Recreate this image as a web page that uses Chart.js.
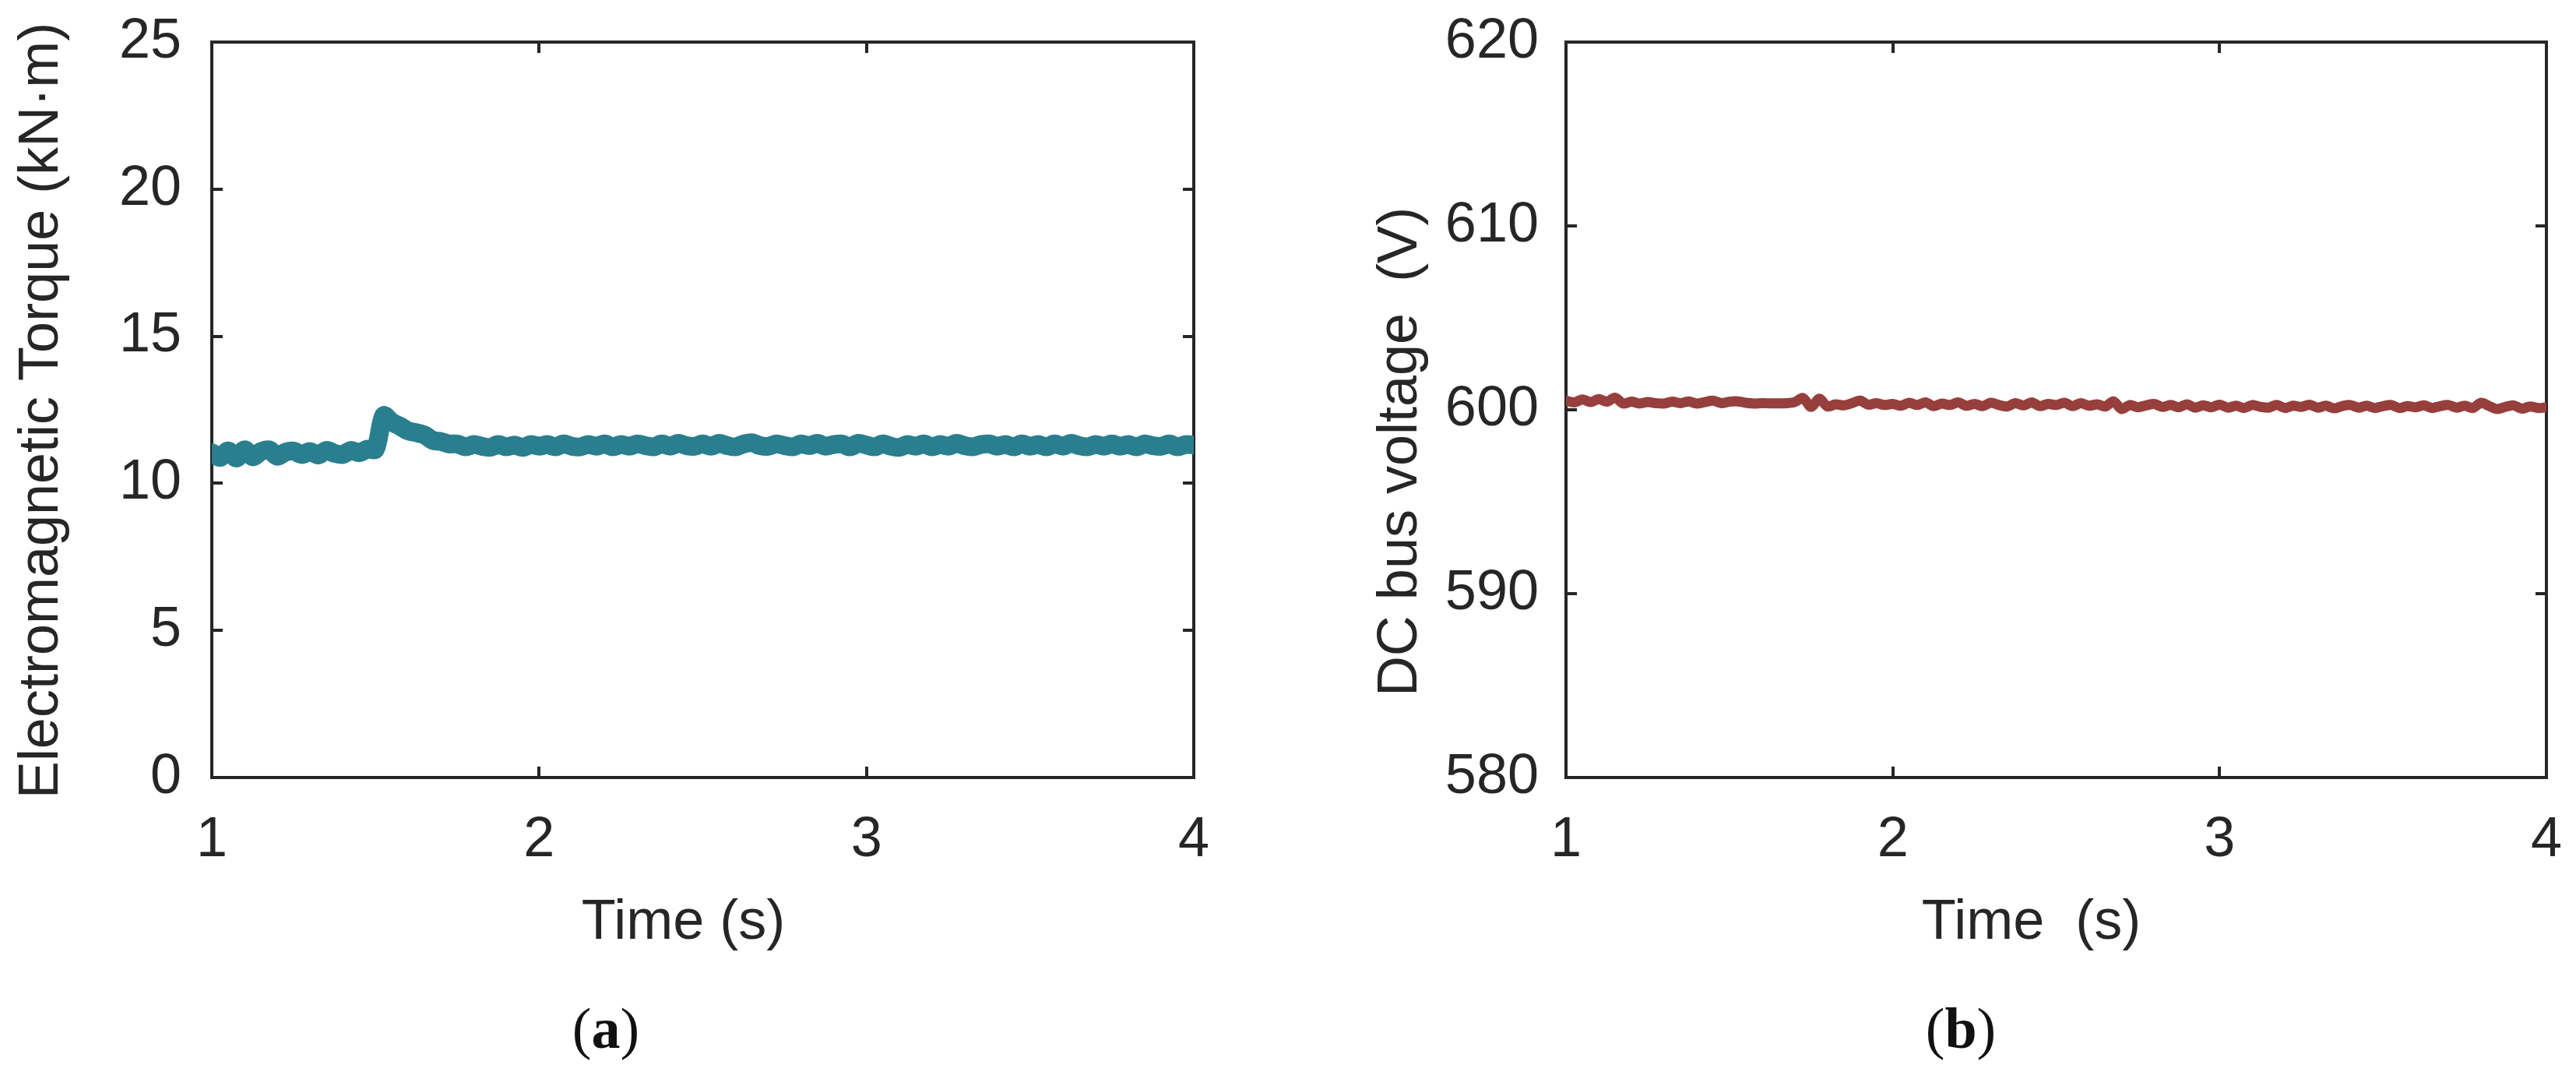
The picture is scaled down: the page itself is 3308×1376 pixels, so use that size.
<!DOCTYPE html>
<html>
<head>
<meta charset="utf-8">
<script src="https://cdn.jsdelivr.net/npm/chart.js@4.4.1/dist/chart.umd.min.js"></script>
<style>
  body { margin: 0; background: #fff; width: 3308px; height: 1376px; position: relative; overflow: hidden; }
  canvas { position: absolute; top: 0; }
  #chartA { left: 0; }
  #chartB { left: 1654px; }
  .cap { position: absolute; top: 1320px; transform: translate(-50%, -50%); font: 74px "Liberation Serif", serif; color: #111; line-height: 1; }
</style>
</head>
<body>
<canvas id="chartA" width="1654" height="1228"></canvas>
<canvas id="chartB" width="1654" height="1228"></canvas>
<div class="cap" style="left:778px">(<b>a</b>)</div>
<div class="cap" style="left:2518px">(<b>b</b>)</div>
<script>
const timeS = [
  1, 1.025, 1.05, 1.075, 1.1, 1.125, 1.15, 1.175, 1.2, 1.225, 1.25, 1.275, 1.3, 1.325, 1.35, 1.375, 1.4, 1.425, 1.45, 1.475,
  1.5, 1.525, 1.55, 1.575, 1.6, 1.625, 1.65, 1.675, 1.7, 1.725, 1.75, 1.775, 1.8, 1.825, 1.85, 1.875, 1.9, 1.925, 1.95, 1.975,
  2, 2.025, 2.05, 2.075, 2.1, 2.125, 2.15, 2.175, 2.2, 2.225, 2.25, 2.275, 2.3, 2.325, 2.35, 2.375, 2.4, 2.425, 2.45, 2.475,
  2.5, 2.525, 2.55, 2.575, 2.6, 2.625, 2.65, 2.675, 2.7, 2.725, 2.75, 2.775, 2.8, 2.825, 2.85, 2.875, 2.9, 2.925, 2.95, 2.975,
  3, 3.025, 3.05, 3.075, 3.1, 3.125, 3.15, 3.175, 3.2, 3.225, 3.25, 3.275, 3.3, 3.325, 3.35, 3.375, 3.4, 3.425, 3.45, 3.475,
  3.5, 3.525, 3.55, 3.575, 3.6, 3.625, 3.65, 3.675, 3.7, 3.725, 3.75, 3.775, 3.8, 3.825, 3.85, 3.875, 3.9, 3.925, 3.95, 3.975,
  4
]

// electromagnetic torque, kN·m
const torque = [
  11.04, 10.88, 11.10, 10.86, 11.14, 10.90, 11.08, 11.14, 10.92, 11.06, 11.10, 10.98, 11.08, 10.96, 11.12, 11.02, 10.98, 11.12, 11.04, 11.16,
  11.16, 12.30, 12.08, 11.94, 11.78, 11.72, 11.64, 11.46, 11.42, 11.34, 11.34, 11.24, 11.32, 11.26, 11.22, 11.32, 11.24, 11.30, 11.22, 11.32,
  11.26, 11.32, 11.24, 11.34, 11.26, 11.24, 11.32, 11.26, 11.34, 11.24, 11.32, 11.26, 11.34, 11.28, 11.24, 11.34, 11.26, 11.36, 11.28, 11.26,
  11.34, 11.26, 11.36, 11.28, 11.24, 11.34, 11.38, 11.28, 11.26, 11.34, 11.28, 11.24, 11.34, 11.28, 11.36, 11.26, 11.32, 11.34, 11.24, 11.36,
  11.30, 11.24, 11.34, 11.26, 11.22, 11.32, 11.26, 11.34, 11.24, 11.32, 11.26, 11.36, 11.28, 11.24, 11.32, 11.34, 11.26, 11.32, 11.24, 11.34,
  11.26, 11.32, 11.24, 11.34, 11.26, 11.36, 11.28, 11.24, 11.32, 11.26, 11.34, 11.26, 11.32, 11.24, 11.34, 11.28, 11.26, 11.34, 11.24, 11.32,
  11.30
]

// DC bus voltage, V
const busVoltage = [
  600.50, 600.40, 600.56, 600.42, 600.58, 600.44, 600.66, 600.34, 600.44, 600.34, 600.42, 600.36, 600.34, 600.44, 600.36, 600.46, 600.34, 600.42, 600.50, 600.36,
  600.44, 600.46, 600.38, 600.34, 600.36, 600.35, 600.35, 600.36, 600.42, 600.64, 600.16, 600.60, 600.18, 600.30, 600.24, 600.36, 600.50, 600.28, 600.36, 600.26,
  600.32, 600.22, 600.38, 600.26, 600.40, 600.20, 600.34, 600.26, 600.40, 600.22, 600.32, 600.20, 600.38, 600.26, 600.18, 600.36, 600.24, 600.40, 600.20, 600.32,
  600.26, 600.38, 600.20, 600.36, 600.22, 600.30, 600.18, 600.46, 600.04, 600.26, 600.14, 600.24, 600.32, 600.16, 600.26, 600.14, 600.30, 600.12, 600.24, 600.14,
  600.28, 600.12, 600.22, 600.10, 600.26, 600.16, 600.12, 600.26, 600.10, 600.22, 600.16, 600.28, 600.12, 600.22, 600.08, 600.20, 600.26, 600.12, 600.22, 600.10,
  600.20, 600.26, 600.10, 600.20, 600.14, 600.24, 600.10, 600.20, 600.26, 600.12, 600.22, 600.10, 600.38, 600.20, 600.04, 600.16, 600.24, 600.06, 600.18, 600.10,
  600.14
]

const xTicks = [1, 2, 3, 4]
const torqueTicks = [0, 5, 10, 15, 20, 25]
const voltageTicks = [580, 590, 600, 610, 620]

const INK = '#262626'
const FONT = '"Liberation Sans", Arial, sans-serif'
const tickFont = { family: FONT, size: 72 }

const zeroPad = (s) => { s.paddingLeft = 0; s.paddingRight = 0; s.paddingTop = 0; s.paddingBottom = 0 }

// axis titles drawn by hand so they can sit where MATLAB put them
const axisTitles = {
  id: 'axisTitles',
  afterDraw(chart, args, opts) {
    const { ctx, chartArea: a } = chart
    ctx.save()
    ctx.fillStyle = INK
    ctx.font = `72px ${FONT}`
    ctx.textAlign = 'center'
    ctx.textBaseline = 'middle'
    ctx.fillText(opts.xText, (a.left + a.right) / 2 + opts.xShift, a.bottom + 187)
    ctx.translate(opts.yX, (a.top + a.bottom) / 2 + opts.yShift)
    ctx.rotate(-Math.PI / 2)
    ctx.fillText(opts.yText, 0, 0)
    ctx.restore()
  }
}

const edge = () => ({
  grid: { drawOnChartArea: false, drawTicks: true, tickLength: -14, color: INK, lineWidth: 4 },
  border: { display: true, color: INK, width: 4 }
})

const makeConfig = (p) => ({
  type: 'line',
  data: {
    datasets: [{
      data: timeS.map((t, i) => ({ x: t, y: p.values[i] })),
      borderColor: p.color,
      borderWidth: p.lineWidth,
      pointRadius: 0,
      borderJoinStyle: 'round',
      borderCapStyle: 'round',
      tension: 0.3
    }]
  },
  options: {
    responsive: false,
    animation: false,
    devicePixelRatio: 1,
    layout: { padding: { top: 54, left: 0, right: p.padRight, bottom: 0 } },
    plugins: {
      legend: { display: false },
      tooltip: { enabled: false },
      axisTitles: p.titles
    },
    scales: {
      x: {
        type: 'linear', position: 'bottom', min: xTicks[0], max: xTicks[xTicks.length - 1],
        afterBuildTicks: (s) => { s.ticks = xTicks.map(v => ({ value: v })) },
        ticks: { color: INK, font: tickFont, padding: 52, maxRotation: 0 },
        afterFit: (s) => { s.height = 230; zeroPad(s) },
        ...edge()
      },
      x2: {
        type: 'linear', position: 'top', min: xTicks[0], max: xTicks[xTicks.length - 1],
        afterBuildTicks: (s) => { s.ticks = xTicks.map(v => ({ value: v })) },
        ticks: { display: false },
        afterFit: (s) => { s.height = 0; zeroPad(s) },
        ...edge()
      },
      y: {
        type: 'linear', position: 'left', min: p.yTicks[0], max: p.yTicks[p.yTicks.length - 1],
        afterBuildTicks: (s) => { s.ticks = p.yTicks.map(v => ({ value: v })) },
        ticks: { color: INK, font: tickFont, padding: p.tickPad },
        afterFit: (s) => { s.width = p.yWidth; zeroPad(s) },
        ...edge()
      },
      y2: {
        type: 'linear', position: 'right', min: p.yTicks[0], max: p.yTicks[p.yTicks.length - 1],
        afterBuildTicks: (s) => { s.ticks = p.yTicks.map(v => ({ value: v })) },
        ticks: { display: false },
        afterFit: (s) => { s.width = 0; zeroPad(s) },
        ...edge()
      }
    }
  },
  plugins: [axisTitles]
})

new Chart(document.getElementById('chartA'), makeConfig({
  values: torque, color: '#2a7f8f', lineWidth: 24,
  yTicks: torqueTicks, yWidth: 272, padRight: 121, tickPad: 53,
  titles: { xText: 'Time (s)', xShift: -25, yText: 'Electromagnetic Torque (kN·m)', yX: 54, yShift: 1 }
}))

new Chart(document.getElementById('chartB'), makeConfig({
  values: busVoltage, color: '#963f3c', lineWidth: 13,
  yTicks: voltageTicks, yWidth: 357, padRight: 38, tickPad: 49,
  titles: { xText: 'Time  (s)', xShift: -32, yText: 'DC bus voltage  (V)', yX: 145, yShift: 54 }
}))
</script>
</body>
</html>
